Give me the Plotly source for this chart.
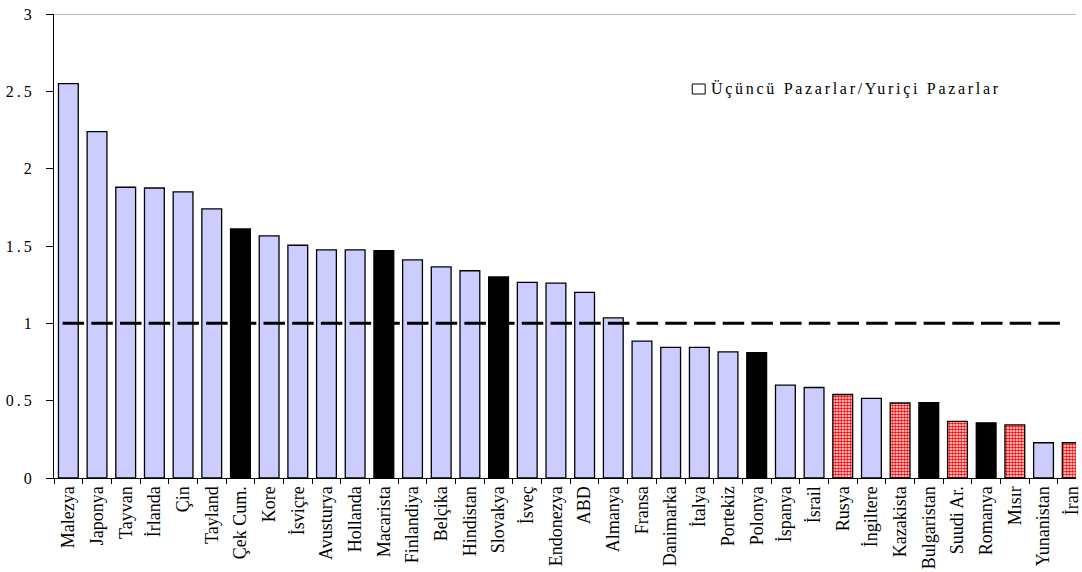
import plotly.graph_objects as go

# Export ratio (third markets / domestic markets) per country
countries = [
    "Malezya", "Japonya", "Tayvan", "İrlanda", "Çin", "Tayland", "Çek Cum.",
    "Kore", "İsviçre", "Avusturya", "Hollanda", "Macarista", "Finlandiya",
    "Belçika", "Hindistan", "Slovakya", "İsveç", "Endonezya", "ABD", "Almanya",
    "Fransa", "Danimarka", "İtalya", "Portekiz", "Polonya", "İspanya", "İsrail",
    "Rusya", "İngiltere", "Kazakista", "Bulgaristan", "Suudi Ar.", "Romanya",
    "Mısır", "Yunanistan", "İran",
]
ratios = [
    2.55, 2.24, 1.88, 1.875, 1.85, 1.74, 1.61,
    1.565, 1.505, 1.475, 1.475, 1.47, 1.41,
    1.365, 1.34, 1.30, 1.265, 1.26, 1.20, 1.035,
    0.885, 0.845, 0.845, 0.815, 0.81, 0.60, 0.585,
    0.54, 0.515, 0.485, 0.487, 0.366, 0.357,
    0.343, 0.228, 0.228,
]
# "g" = general, "k" = Central/Eastern Europe (solid black), "r" = hatched red
groups = [
    "g", "g", "g", "g", "g", "g", "k",
    "g", "g", "g", "g", "k", "g",
    "g", "g", "k", "g", "g", "g", "g",
    "g", "g", "g", "g", "k", "g", "g",
    "r", "g", "r", "k", "r", "k",
    "r", "g", "r",
]
threshold = 1.0
legend_label = "Üçüncü Pazarlar/Yuriçi Pazarlar"
y_ticks = [0, 0.5, 1, 1.5, 2, 2.5, 3]

SERIF = "Liberation Serif"

styles = {
    "g": dict(color="#CCCCFF"),
    "k": dict(color="#000000"),
    "r": dict(color="#FFFFFF",
              pattern=dict(shape=".", fgcolor="#FF0000", bgcolor="#FFFFFF",
                           fillmode="replace", size=3, solidity=0.6)),
}

fig = go.Figure()
for key, style in styles.items():
    xs = [c for c, g in zip(countries, groups) if g == key]
    ys = [v for v, g in zip(ratios, groups) if g == key]
    fig.add_trace(go.Bar(
        x=xs,
        y=ys,
        marker=dict(line=dict(color="#000000", width=1.3), **style),
        showlegend=False,
        hoverinfo="x+y",
    ))

# Plot-area geometry (pixels)
W, H = 1082, 572
L, R, T, B = 54, 0, 14, 94
pw, ph = W - L - R, H - T - B
cat_w = 28.85
x_max = -0.5 + pw / cat_w


def px_x(p):
    return (p - L) / pw


def px_y(p):
    return (H - B - p) / ph


shapes = [
    # top border line at y=3
    dict(type="line", xref="paper", yref="y", x0=0, x1=1, y0=3, y1=3,
         line=dict(color="#A0A0A0", width=1.5), layer="below"),
    # parity reference line
    dict(type="line", xref="x", yref="y", x0=-0.2, x1=34.6,
         y0=threshold, y1=threshold,
         line=dict(color="#000000", width=3, dash="21.5px,7.2px")),
    # legend key
    dict(type="rect", xref="paper", yref="paper",
         x0=px_x(696), x1=px_x(709), y0=px_y(94), y1=px_y(84),
         line=dict(color="#000000", width=1), fillcolor="#FFFFFF"),
]

annotations = [
    dict(xref="paper", yref="paper", x=px_x(713), y=px_y(89),
         xanchor="left", yanchor="middle", showarrow=False,
         text=f'<span style="letter-spacing:2.7px">{legend_label}</span>',
         font=dict(family=SERIF, size=16, color="#000000")),
]

fig.update_layout(
    width=W, height=H,
    margin=dict(l=L, r=R, t=T, b=B, pad=0),
    paper_bgcolor="#FFFFFF",
    plot_bgcolor="#FFFFFF",
    barmode="overlay",
    bargap=0.31,
    shapes=shapes,
    annotations=annotations,
    xaxis=dict(
        type="category",
        categoryorder="array",
        categoryarray=countries,
        range=[-0.5, x_max],
        showline=True, linecolor="#000000", linewidth=1.3,
        ticks="outside", tickson="boundaries", ticklen=5,
        tickcolor="#000000", tickwidth=1,
        tickangle=-90,
        tickfont=dict(family=SERIF, size=18, color="#000000"),
        showgrid=False, zeroline=False,
    ),
    yaxis=dict(
        range=[0, 3],
        tickvals=y_ticks,
        ticktext=[f'<span style="letter-spacing:3px">{v:g}</span>' for v in y_ticks],
        showline=True, linecolor="#000000", linewidth=1.3,
        ticks="outside", ticklen=7, tickcolor="#000000", tickwidth=1,
        ticklabelstandoff=8,
        tickfont=dict(family=SERIF, size=16, color="#000000"),
        showgrid=False, zeroline=False,
    ),
)

fig.write_html("out.html")
